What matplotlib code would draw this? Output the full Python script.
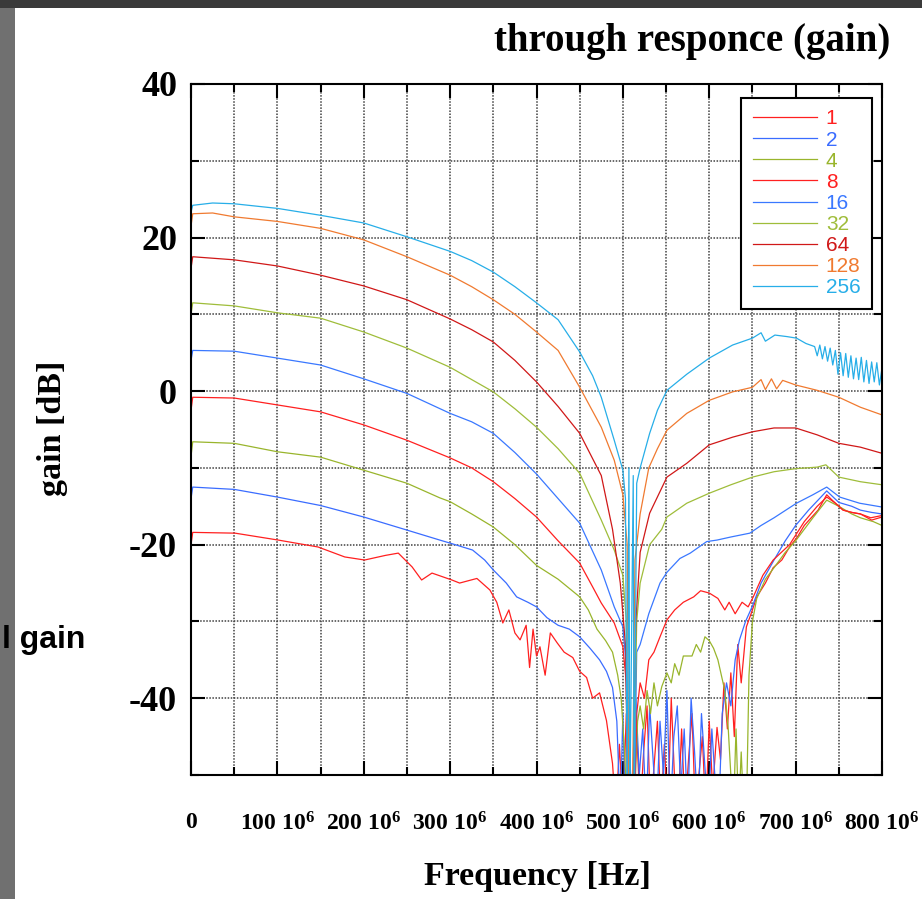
import matplotlib
matplotlib.use("Agg")
import matplotlib.pyplot as plt
from matplotlib.patches import Rectangle
from matplotlib.ticker import MultipleLocator, FuncFormatter

plt.rcParams["font.family"] = ["Liberation Serif", "DejaVu Serif"]
plt.rcParams["font.weight"] = "bold"
plt.rcParams["axes.unicode_minus"] = False
plt.rcParams["mathtext.fontset"] = "custom"
plt.rcParams["mathtext.rm"] = "Liberation Serif:bold"
plt.rcParams["mathtext.it"] = "Liberation Serif:bold"
plt.rcParams["mathtext.bf"] = "Liberation Serif:bold"

# (frequency [MHz], gain [dB]); -55 = below the plot
s1 = [(0, -20), (2, -18.4), (51, -18.5), (101, -19.4), (147, -20.3), (178, -21.6), (201, -22),
      (225, -21.4), (240, -21.1), (256, -22.9), (267, -24.6), (279, -23.7), (302, -24.6), (311, -25),
      (331, -24.4), (346, -25.9), (354, -27.5), (361, -30.2), (368, -28.5), (375, -31.5), (381, -32.4),
      (388, -30.5), (392, -36), (396, -31), (400, -34.5), (404, -33.3), (410, -37), (416, -31.5),
      (424, -32.8), (432, -34), (442, -34.7), (450, -36.5), (458, -37.3), (465, -40), (473, -39.3),
      (481, -42.9), (488, -48.5), (492, -55),
      (496, -46), (500, -55), (504, -42), (508, -52), (512, -55), (516, -44), (520, -55), (524, -47),
      (528, -41), (532, -55), (536, -49), (540, -43), (544, -55), (548, -46), (552, -55), (556, -40),
      (560, -51), (564, -55), (568, -44), (572, -55), (576, -48), (580, -42), (584, -55), (588, -50),
      (592, -45), (596, -55), (600, -43), (604, -52),
      (609, -43.8), (613, -48), (617, -38), (621, -44), (625, -36.7), (629, -45), (633, -33), (637, -38),
      (643, -30.7), (650, -28.5), (655, -26.8), (665, -25), (674, -23), (684, -22), (693, -20.3),
      (702, -19), (710, -17.5), (718, -16.5), (726, -15.5), (736, -13.5), (745, -14.5), (755, -15.5),
      (765, -15.8), (775, -16), (787, -16.5), (800, -16.2)]

s2 = [(0, -14), (2, -12.5), (50, -12.8), (100, -13.8), (150, -14.9), (200, -16.4), (250, -18.1),
      (288, -19.4), (300, -19.8), (326, -20.7), (340, -22), (350, -23.3), (365, -25), (377, -26.8),
      (390, -27.5), (400, -28.1), (412, -29.5), (425, -30.5), (438, -31), (450, -32), (462, -33.5),
      (473, -35), (481, -36.5), (488, -38.6), (493, -43), (497, -55),
      (500, -42), (503, -55), (507, -45), (511, -55), (515, -40), (519, -50), (523, -44), (527, -55),
      (531, -41), (535, -48), (539, -55), (543, -43), (547, -50), (551, -39), (555, -55), (559, -45),
      (563, -41), (567, -52), (571, -44), (575, -55), (579, -40), (583, -47), (587, -55), (591, -42),
      (595, -49), (599, -55), (603, -44), (607, -51), (611, -55),
      (615, -42), (620, -38), (625, -41), (630, -35), (635, -32.4), (642, -30), (650, -28), (660, -25),
      (675, -22), (688, -19.5), (700, -17.5), (715, -15.5), (736, -13), (750, -14.5), (765, -15),
      (775, -15.5), (788, -15.8), (800, -16)]

s4 = [(0, -8.5), (2, -6.6), (50, -6.8), (100, -7.9), (150, -8.6), (200, -10.3), (250, -12.0),
      (288, -13.9), (300, -14.4), (325, -16), (350, -17.7), (375, -20), (400, -22.7), (425, -24.5),
      (450, -26.8), (460, -28.5), (470, -31), (480, -32.5), (488, -34), (494, -37), (498, -40),
      (502, -47), (505, -55), (513, -55), (517, -43), (520, -41), (524, -44), (528, -39), (532, -42),
      (536, -38), (540, -41), (545, -38.5), (551, -36.7), (556, -38), (560, -35.5), (565, -37),
      (570, -34.5), (580, -34.5), (585, -33), (590, -34), (595, -32), (600, -32.5), (605, -33.5),
      (610, -35), (614, -37), (618, -39), (622, -44), (625, -50), (628, -55), (631, -44), (634, -55),
      (637, -47), (640, -55), (643, -55), (646, -37), (650, -30), (655, -27), (665, -24.5), (675, -23),
      (688, -21), (700, -19.5), (720, -16.5), (736, -14.2), (750, -15), (765, -16), (775, -16.5),
      (790, -17), (800, -17.5)]

s8 = [(0, -2.5), (2, -0.8), (50, -0.9), (100, -1.8), (150, -2.7), (200, -4.4), (250, -6.4),
      (300, -8.7), (325, -10), (350, -11.8), (375, -14), (400, -16.4), (425, -19.5), (450, -22.4),
      (465, -25.5), (475, -27.6), (490, -30.2), (500, -33.3), (504, -38), (506, -55), (513, -55),
      (516, -42), (520, -38), (525, -40), (530, -35), (536, -34), (543, -32), (551, -29.8),
      (560, -28.5), (570, -27.5), (582, -26.8), (590, -26), (600, -26.3), (610, -27), (618, -28.5),
      (623, -27.5), (630, -29), (638, -27.5), (645, -28.1), (651, -26.8), (662, -24), (674, -22),
      (693, -20), (710, -17), (725, -15), (736, -13.8), (745, -14.5), (755, -15.5), (765, -15.8),
      (775, -16), (788, -16.8), (800, -16.4)]

s16 = [(0, 4), (2, 5.3), (50, 5.2), (100, 4.3), (150, 3.4), (200, 1.6), (250, -0.3), (300, -2.9),
       (325, -4), (350, -5.5), (375, -8), (400, -10.8), (425, -14), (450, -17.2), (475, -23.3),
       (490, -28.1), (500, -30.7), (504, -36), (506, -55), (513, -55), (516, -34), (520, -33),
       (530, -29), (543, -25), (551, -23.6), (566, -21.8), (578, -21.1), (597, -19.6), (609, -19.4),
       (625, -19), (647, -18.5), (660, -17.5), (675, -16.5), (701, -14.6), (720, -13.5), (736, -12.5),
       (751, -13.8), (774, -14.6), (800, -15.1)]

s32 = [(0, 10), (2, 11.5), (50, 11.1), (100, 10.2), (150, 9.5), (200, 7.7), (250, 5.6), (300, 3.1),
       (325, 1.5), (350, -0.1), (375, -2.3), (400, -4.7), (425, -7.5), (450, -10.7), (475, -16.8),
       (490, -20.7), (500, -24), (504, -30), (506, -55), (512, -55), (516, -30), (520, -25),
       (531, -20), (545, -18), (551, -16.4), (574, -14.6), (600, -13.3), (625, -12.2), (650, -11.2),
       (675, -10.5), (700, -10.1), (725, -9.9), (735, -9.6), (750, -11.2), (775, -11.8), (800, -12.2)]

s64 = [(0, 16), (2, 17.5), (50, 17.1), (100, 16.3), (150, 15.1), (200, 13.7), (250, 11.9), (300, 9.4),
       (325, 8.0), (350, 6.4), (375, 4.0), (400, 1.2), (425, -2), (450, -5.5), (475, -11), (488, -18),
       (497, -25), (503, -33), (506, -55), (511, -55), (515, -30), (520, -21), (531, -15.9),
       (551, -11.2), (574, -9.4), (600, -7.0), (627, -6.0), (650, -5.3), (675, -4.8), (700, -4.8),
       (725, -5.7), (750, -6.8), (775, -7.3), (800, -8.1)]

s128 = [(0, 21.5), (2, 23.1), (25, 23.2), (50, 22.7), (100, 22.1), (150, 21.2), (200, 19.7),
        (250, 17.5), (300, 15.1), (325, 13.6), (350, 11.9), (375, 10), (400, 7.7), (425, 5.3),
        (450, 0.5), (475, -4.7), (490, -9.0), (500, -13.5), (505, -20), (507, -55), (511, -55),
        (514, -22), (520, -16), (530, -10), (540, -7.5), (551, -5.1), (574, -2.9), (600, -1.2),
        (627, -0.1), (650, 0.5), (660, 1.5), (665, 0.2), (672, 1.6), (678, 0.3), (685, 1.4),
        (700, 0.8), (725, 0.1), (750, -0.8), (775, -2.1), (800, -3.1)]

s256 = [(0, 23.3), (2, 24.2), (25, 24.5), (50, 24.4), (100, 23.8), (150, 22.9), (200, 21.9),
        (250, 20.1), (300, 18.2), (325, 17), (350, 15.5), (375, 13.6), (400, 11.5), (425, 9.3),
        (450, 5.1), (465, 2), (475, -0.8), (490, -6.4), (500, -10.3), (503, -14), (505, -55),
        (507, -10), (508, -55), (512, -11), (513, -55), (516, -12), (520, -10), (531, -5.5),
        (540, -2.5), (551, 0.1), (574, 2.2), (600, 4.3), (627, 6.0), (650, 6.9), (660, 7.6),
        (665, 6.5), (676, 7.3), (690, 7.1), (701, 6.9), (712, 6.2), (722, 5.8), (725, 4.6),
        (728, 6.0), (731, 4.2), (734, 5.8), (737, 3.9), (740, 5.6), (743, 3.4), (746, 5.3),
        (749, 2.2), (752, 5.0), (755, 2.0), (758, 4.9), (761, 1.8), (764, 4.6), (767, 1.6),
        (770, 4.3), (773, 1.5), (776, 4.4), (779, 1.2), (782, 4.0), (785, 1.0), (788, 3.8),
        (791, 1.2), (794, 3.7), (797, 0.8), (800, 3.0)]

labels = ["1", "2", "4", "8", "16", "32", "64", "128", "256"]
series = [s1, s2, s4, s8, s16, s32, s64, s128, s256]
colors = ["#ff2020", "#3a6cff", "#99b52c", "#ff2020", "#3a78ff", "#9fbd3a", "#d01818", "#f07a30", "#27aee8"]

fig = plt.figure(figsize=(9.22, 8.99), dpi=100)

# slide border bits
fig.patches.append(Rectangle((0, 0), 15 / 922, 1, transform=fig.transFigure,
                             facecolor="#707070", edgecolor="none", zorder=-5))
fig.patches.append(Rectangle((0, 1 - 8 / 899), 1, 8 / 899, transform=fig.transFigure,
                             facecolor="#3a3a3a", edgecolor="none", zorder=-4))

ax = fig.add_axes([191 / 922, 124 / 899, 691 / 922, 691 / 899])

for data, lab, col in zip(series, labels, colors):
    f = [p[0] for p in data]
    g = [p[1] for p in data]
    ax.plot(f, g, color=col, lw=0.9, label=lab)

ax.set_xlim(0, 800)
ax.set_ylim(-50, 40)
ax.xaxis.set_major_locator(MultipleLocator(100))
ax.xaxis.set_minor_locator(MultipleLocator(50))
ax.yaxis.set_major_locator(MultipleLocator(20))
ax.yaxis.set_minor_locator(MultipleLocator(10))
ax.xaxis.set_major_formatter(FuncFormatter(
    lambda v, p: "0" if v == 0 else r"$%d\ 10^{6}$" % v))
ax.grid(which="both", color="0.25", linestyle=(0, (1, 1)), lw=1.1)
ax.tick_params(which="both", direction="in", top=True, right=True, width=1.5)
ax.tick_params(which="major", length=10)
ax.tick_params(which="minor", length=6)
ax.tick_params(axis="x", labelsize=17, pad=27)
ax.tick_params(axis="y", labelsize=26, pad=10)
for sp in ax.spines.values():
    sp.set_linewidth(1.5)

leg = ax.legend(loc="upper right", bbox_to_anchor=(0.9855, 0.9797), borderaxespad=0,
                fancybox=False, framealpha=1, edgecolor="black",
                prop={"family": "Liberation Sans", "size": 15, "weight": "normal"},
                labelspacing=0.1, handlelength=3.1, handletextpad=0.4, borderpad=0.55)
leg.get_frame().set_linewidth(1.5)
for t, c in zip(leg.get_texts(), colors):
    t.set_color(c)

fig.text(890 / 922, 1 - 42 / 899, "through responce (gain)", ha="right", va="center",
         fontsize=28, fontweight="bold")
fig.text(52 / 922, 1 - 428 / 899, "gain [dB]", rotation=90, ha="center", va="center",
         fontsize=24.5, fontweight="bold")
fig.text(537 / 922, 1 - 877 / 899, "Frequency [Hz]", ha="center", va="center",
         fontsize=24.5, fontweight="bold")
fig.text(2 / 922, 1 - 648 / 899, "l gain", ha="left", va="baseline",
         fontsize=23, fontweight="bold", family="Liberation Sans")

fig.savefig("out.png", dpi=100)
